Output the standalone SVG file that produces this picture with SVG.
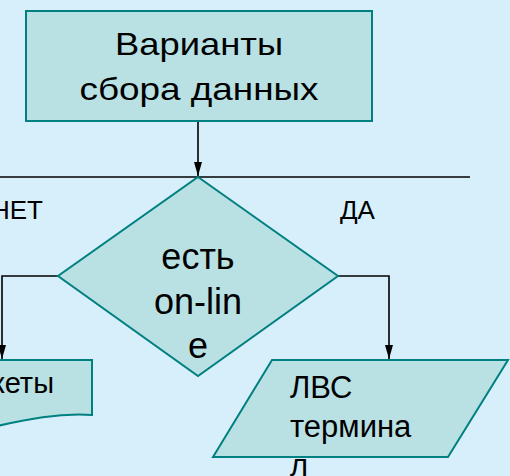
<svg xmlns="http://www.w3.org/2000/svg" width="510" height="476" viewBox="0 0 510 476">
<defs>
<style>
.shape{fill:#B9E0E3;stroke:#008080;stroke-width:2}
.line{fill:none;stroke:#000;stroke-width:1.6}
text{font-family:"Liberation Sans",Arial,sans-serif;fill:#000}
</style>
<marker id="arr" markerWidth="14" markerHeight="8" refX="14" refY="4" orient="auto" markerUnits="userSpaceOnUse" viewBox="0 0 14 8">
<path d="M0,0 L14,4 L0,8 Z" fill="#000"/>
</marker>
</defs>
<rect width="510" height="476" fill="#D7EEFB"/>
<g id="connectors">
<line class="line" x1="198" y1="122" x2="198" y2="176" marker-end="url(#arr)"/>
<line class="line" x1="0" y1="177" x2="470" y2="177"/>
<polyline class="line" points="58,276 2,276 2,359" marker-end="url(#arr)"/>
<polyline class="line" points="338,276 389,276 389,359" marker-end="url(#arr)"/>
</g>
<g id="start">
<rect class="shape" x="26" y="11" width="346" height="110"/>
<text x="199" y="55" font-size="32" text-anchor="middle" textLength="168" lengthAdjust="spacingAndGlyphs">Варианты</text>
<text x="199" y="100" font-size="32" text-anchor="middle" textLength="239" lengthAdjust="spacingAndGlyphs">сбора данных</text>
</g>
<g id="labels">
<text x="43" y="219" font-size="26" text-anchor="end">НЕТ</text>
<text x="340" y="219" font-size="26">ДА</text>
</g>
<g id="decision">
<polygon class="shape" points="198,177 338,276 198,376 58,276"/>
<text x="198" y="269" font-size="36" text-anchor="middle">есть</text>
<text x="198" y="314" font-size="36" text-anchor="middle">on-lin</text>
<text x="198" y="358" font-size="36" text-anchor="middle">е</text>
</g>
<g id="document">
<path class="shape" d="M-20,360 H92 V415 C60,413 30,418 -20,430 Z"/>
<text x="54" y="393" font-size="29" text-anchor="end">Анкеты</text>
</g>
<g id="io">
<polygon class="shape" points="272,360 508,360 448,457 213,457"/>
<text x="290" y="398" font-size="31">ЛВС</text>
<text x="290" y="437" font-size="31">термина</text>
<text x="290" y="476" font-size="31">л</text>
</g>
</svg>
